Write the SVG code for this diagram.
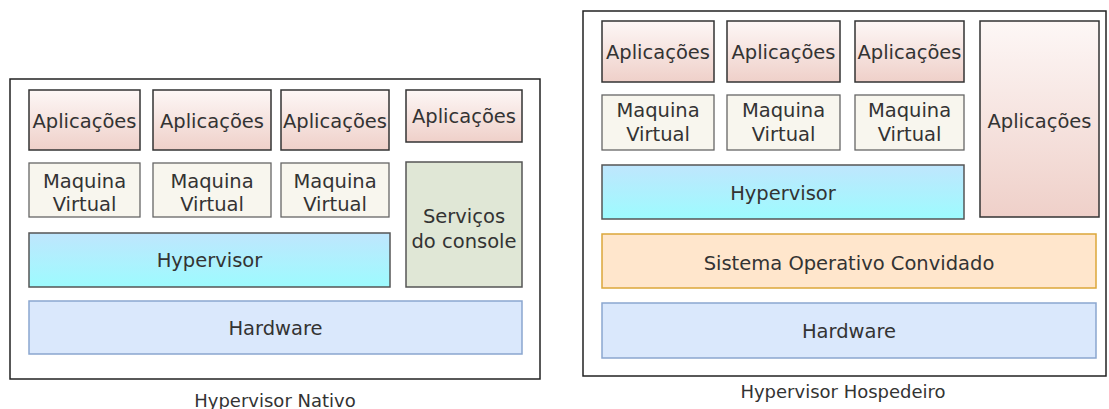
<svg xmlns="http://www.w3.org/2000/svg" width="1109" height="409" viewBox="0 0 1109 409">
  <defs>
    <linearGradient id="gApp" x1="0" y1="0" x2="0" y2="1">
      <stop offset="0" stop-color="#fdf7f6"/>
      <stop offset="1" stop-color="#efd0c9"/>
    </linearGradient>
    <linearGradient id="gHyp" x1="0" y1="0" x2="0" y2="1">
      <stop offset="0" stop-color="#bfe6fd"/>
      <stop offset="1" stop-color="#9dfbfe"/>
    </linearGradient>
  </defs>
  <style>
    text { font-family: "DejaVu Sans", Verdana, sans-serif; font-size: 19.5px; fill: #333333; text-anchor: middle; dominant-baseline: central; }
    .frame { fill: #ffffff; stroke: #222222; stroke-width: 1.5; }
    .app { fill: url(#gApp); stroke: #333333; stroke-width: 1.5; }
    .vm { fill: #f8f6ee; stroke: #666666; stroke-width: 1.3; }
    .hyp { fill: url(#gHyp); stroke: #555555; stroke-width: 1.5; }
    .svc { fill: #e0e7d6; stroke: #555555; stroke-width: 1.5; }
    .hw { fill: #dae8fc; stroke: #8aa6cf; stroke-width: 1.5; }
    .os { fill: #ffe6cc; stroke: #dca73a; stroke-width: 1.5; }
    .cap { font-size: 18px; }
  </style>

  <!-- Native (bare-metal) hypervisor stack -->
  <g id="nativo">
    <rect class="frame" x="10" y="79" width="530" height="300"/>
    <g id="n-app1"><rect class="app" x="29" y="90" width="111" height="60"/><text x="84.5" y="121">Aplicações</text></g>
    <g id="n-app2"><rect class="app" x="153" y="90" width="118" height="60"/><text x="212" y="121">Aplicações</text></g>
    <g id="n-app3"><rect class="app" x="281" y="90" width="108" height="60"/><text x="335" y="121">Aplicações</text></g>
    <g id="n-app4"><rect class="app" x="406" y="90" width="116" height="52"/><text x="464" y="116">Aplicações</text></g>
    <g id="n-vm1"><rect class="vm" x="29" y="163" width="111" height="54"/><text x="84.5" y="181">Maquina</text><text x="84.5" y="204">Virtual</text></g>
    <g id="n-vm2"><rect class="vm" x="153" y="163" width="118" height="54"/><text x="212" y="181">Maquina</text><text x="212" y="204">Virtual</text></g>
    <g id="n-vm3"><rect class="vm" x="281" y="163" width="108" height="54"/><text x="335" y="181">Maquina</text><text x="335" y="204">Virtual</text></g>
    <g id="n-svc"><rect class="svc" x="406" y="162" width="116" height="125"/><text x="464" y="216">Serviços</text><text x="464" y="241">do console</text></g>
    <g id="n-hyp"><rect class="hyp" x="29" y="233" width="361" height="54"/><text x="209.5" y="260">Hypervisor</text></g>
    <g id="n-hw"><rect class="hw" x="29" y="301" width="493" height="53"/><text x="275.5" y="328">Hardware</text></g>
    <text class="cap" x="275" y="400">Hypervisor Nativo</text>
  </g>

  <!-- Hosted hypervisor stack -->
  <g id="hospedeiro">
    <rect class="frame" x="583" y="11" width="523" height="365"/>
    <g id="h-app1"><rect class="app" x="602" y="21" width="112" height="61"/><text x="658" y="52">Aplicações</text></g>
    <g id="h-app2"><rect class="app" x="727" y="21" width="113" height="61"/><text x="783.5" y="52">Aplicações</text></g>
    <g id="h-app3"><rect class="app" x="855" y="21" width="109" height="61"/><text x="909.5" y="52">Aplicações</text></g>
    <g id="h-app4"><rect class="app" x="980" y="21" width="119" height="196"/><text x="1039.5" y="121">Aplicações</text></g>
    <g id="h-vm1"><rect class="vm" x="602" y="95" width="112" height="55"/><text x="658" y="110">Maquina</text><text x="658" y="134">Virtual</text></g>
    <g id="h-vm2"><rect class="vm" x="727" y="95" width="113" height="55"/><text x="783.5" y="110">Maquina</text><text x="783.5" y="134">Virtual</text></g>
    <g id="h-vm3"><rect class="vm" x="855" y="95" width="109" height="55"/><text x="909.5" y="110">Maquina</text><text x="909.5" y="134">Virtual</text></g>
    <g id="h-hyp"><rect class="hyp" x="602" y="165" width="362" height="54"/><text x="783" y="193">Hypervisor</text></g>
    <g id="h-os"><rect class="os" x="602" y="234" width="494" height="54"/><text x="849" y="263">Sistema Operativo Convidado</text></g>
    <g id="h-hw"><rect class="hw" x="602" y="303" width="494" height="55"/><text x="849" y="331">Hardware</text></g>
    <text class="cap" x="843" y="391">Hypervisor Hospedeiro</text>
  </g>

  <!-- layered stacks: no connectors -->
  <g id="connectors"/>
</svg>
